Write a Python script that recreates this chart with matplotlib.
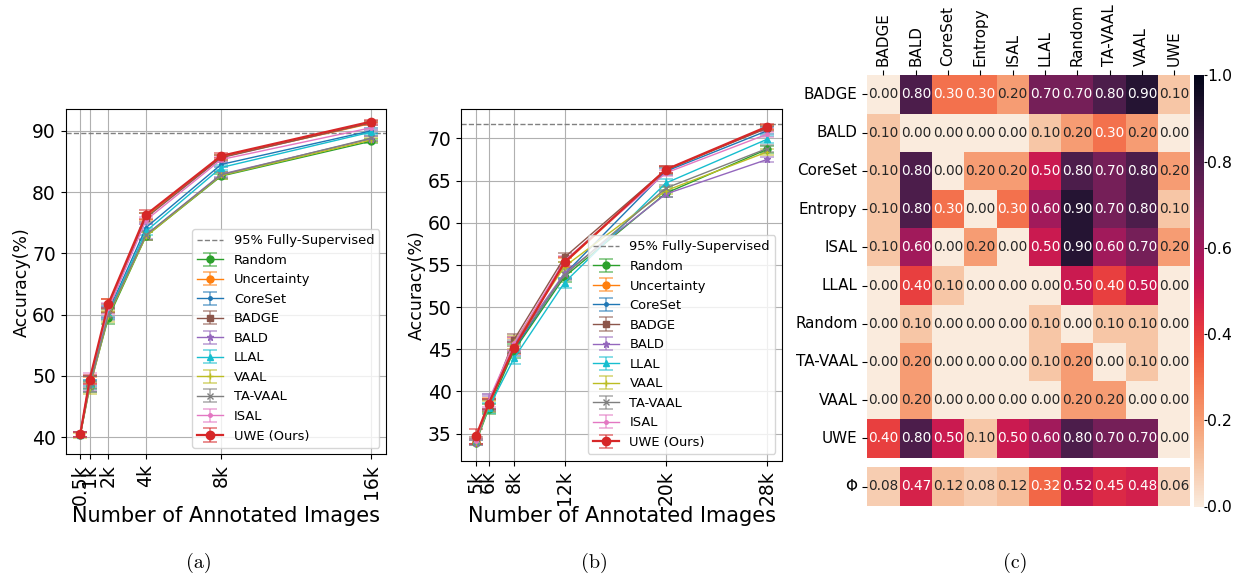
import numpy as np
import matplotlib
matplotlib.use("Agg")
import matplotlib.pyplot as plt
import seaborn as sns

plt.rcParams['font.family'] = ['DejaVu Sans']

# ---------------- data ----------------
methods = ["Random", "Uncertainty", "CoreSet", "BADGE", "BALD", "LLAL",
           "VAAL", "TA-VAAL", "ISAL", "UWE (Ours)"]
colors = ["tab:green", "tab:orange", "tab:blue", "tab:brown", "tab:purple",
          "tab:cyan", "tab:olive", "tab:gray", "tab:pink", "tab:red"]
markers = ["o", "o", ".", "s", "*", "^", "+", "x", ".", "o"]

# panel (a)
budget_a = [0.5, 1, 2, 4, 8, 16]
ticklabels_a = ["0.5k", "1k", "2k", "4k", "8k", "16k"]
acc_a = {
    "Random":      [40.4, 48.3, 59.5, 72.8, 82.6, 88.3],
    "Uncertainty": [40.5, 48.8, 61.5, 76.0, 85.7, 91.2],
    "CoreSet":     [40.4, 49.2, 60.5, 74.2, 84.5, 90.0],
    "BADGE":       [40.5, 49.0, 61.0, 75.8, 85.6, 91.3],
    "BALD":        [40.4, 48.5, 60.3, 73.0, 82.9, 88.7],
    "LLAL":        [40.4, 48.6, 60.2, 73.6, 84.0, 89.8],
    "VAAL":        [40.3, 48.0, 59.8, 72.8, 82.7, 88.5],
    "TA-VAAL":     [40.4, 48.2, 60.0, 73.0, 82.8, 88.8],
    "ISAL":        [40.5, 49.5, 61.0, 75.4, 85.3, 90.5],
    "UWE (Ours)":  [40.5, 49.4, 61.8, 76.3, 85.9, 91.5],
}
std_a = {
    "Random":      [0.4, 0.9, 1.0, 0.7, 0.4, 0.3],
    "Uncertainty": [0.4, 1.0, 1.1, 0.6, 0.4, 0.3],
    "CoreSet":     [0.4, 0.8, 0.9, 0.6, 0.4, 0.4],
    "BADGE":       [0.4, 0.9, 0.8, 0.7, 0.4, 0.3],
    "BALD":        [0.4, 0.9, 0.9, 0.6, 0.4, 0.4],
    "LLAL":        [0.4, 0.8, 0.9, 0.6, 0.4, 0.4],
    "VAAL":        [0.4, 0.9, 1.0, 0.7, 0.5, 0.3],
    "TA-VAAL":     [0.4, 0.8, 0.9, 0.8, 0.5, 0.4],
    "ISAL":        [0.4, 0.9, 0.9, 0.6, 0.4, 0.4],
    "UWE (Ours)":  [0.4, 0.8, 0.8, 0.7, 0.4, 0.3],
}
full_sup_a = 89.6

# panel (b)
budget_b = [5, 6, 8, 12, 20, 28]
ticklabels_b = ["5k", "6k", "8k", "12k", "20k", "28k"]
acc_b = {
    "Random":      [33.9, 37.9, 44.8, 53.6, 63.5, 68.7],
    "Uncertainty": [34.0, 38.5, 45.5, 55.2, 66.2, 71.3],
    "CoreSet":     [34.0, 38.8, 45.0, 53.9, 66.1, 70.9],
    "BADGE":       [34.2, 38.3, 46.1, 55.9, 66.3, 71.2],
    "BALD":        [33.9, 38.6, 45.6, 54.0, 63.4, 67.5],
    "LLAL":        [34.1, 38.0, 43.9, 52.9, 64.7, 69.9],
    "VAAL":        [34.0, 38.2, 45.8, 54.8, 63.8, 68.4],
    "TA-VAAL":     [34.0, 38.4, 45.3, 53.8, 64.1, 68.8],
    "ISAL":        [34.1, 38.9, 45.7, 55.5, 65.9, 70.5],
    "UWE (Ours)":  [34.65, 38.5, 45.1, 55.3, 66.3, 71.4],
}
std_b = {
    "Random":      [0.3, 0.6, 0.8, 0.6, 0.4, 0.4],
    "Uncertainty": [0.3, 0.7, 0.8, 0.6, 0.4, 0.3],
    "CoreSet":     [0.3, 0.9, 0.8, 0.6, 0.4, 0.4],
    "BADGE":       [0.4, 0.7, 0.7, 0.5, 0.4, 0.3],
    "BALD":        [0.3, 0.8, 0.8, 0.6, 0.4, 0.3],
    "LLAL":        [0.3, 0.6, 0.7, 0.6, 0.5, 0.4],
    "VAAL":        [0.3, 0.7, 0.8, 0.6, 0.4, 0.4],
    "TA-VAAL":     [0.3, 0.7, 0.8, 0.6, 0.4, 0.4],
    "ISAL":        [0.3, 0.8, 0.8, 0.6, 0.4, 0.3],
    "UWE (Ours)":  [0.9, 0.6, 0.7, 0.6, 0.4, 0.3],
}
full_sup_b = 71.65

# panel (c): pairwise comparison matrix
pair_labels = ["BADGE", "BALD", "CoreSet", "Entropy", "ISAL", "LLAL",
               "Random", "TA-VAAL", "VAAL", "UWE"]
pair_matrix = [
    [0.00, 0.80, 0.30, 0.30, 0.20, 0.70, 0.70, 0.80, 0.90, 0.10],
    [0.10, 0.00, 0.00, 0.00, 0.00, 0.10, 0.20, 0.30, 0.20, 0.00],
    [0.10, 0.80, 0.00, 0.20, 0.20, 0.50, 0.80, 0.70, 0.80, 0.20],
    [0.10, 0.80, 0.30, 0.00, 0.30, 0.60, 0.90, 0.70, 0.80, 0.10],
    [0.10, 0.60, 0.00, 0.20, 0.00, 0.50, 0.90, 0.60, 0.70, 0.20],
    [0.00, 0.40, 0.10, 0.00, 0.00, 0.00, 0.50, 0.40, 0.50, 0.00],
    [0.00, 0.10, 0.00, 0.00, 0.00, 0.10, 0.00, 0.10, 0.10, 0.00],
    [0.00, 0.20, 0.00, 0.00, 0.00, 0.10, 0.20, 0.00, 0.10, 0.00],
    [0.00, 0.20, 0.00, 0.00, 0.00, 0.00, 0.20, 0.20, 0.00, 0.00],
    [0.40, 0.80, 0.50, 0.10, 0.50, 0.60, 0.80, 0.70, 0.70, 0.00],
]
phi_row = [0.08, 0.47, 0.12, 0.08, 0.12, 0.32, 0.52, 0.45, 0.48, 0.06]

# ---------------- figure ----------------
W, H = 1234, 576
fig = plt.figure(figsize=(W / 100, H / 100), dpi=100)


def px_axes(left, top, right, bottom):
    return fig.add_axes([left / W, 1 - bottom / H, (right - left) / W,
                         (bottom - top) / H])


TICK_FS = 13.5
LEG_FS = 9.4


def draw_curves(ax, budget, acc, std, full_sup, ticklabels, ylim, yticks):
    ax.set_axisbelow(True)
    ax.grid(True, color="#b0b0b0", linewidth=0.8)
    ax.axhline(full_sup, color="gray", linestyle="--", linewidth=1,
               label="95% Fully-Supervised")
    for name, col, mk in zip(methods, colors, markers):
        ours = name.startswith("UWE")
        ax.errorbar(budget, acc[name], yerr=std[name], color=col, marker=mk,
                    markersize=6 if ours else 5,
                    linewidth=1.6 if ours else 1,
                    elinewidth=1.2, capsize=5, capthick=1.2,
                    ecolor=matplotlib.colors.to_rgba(col, 0.6),
                    label=name)
    ax.set_xticks(budget)
    ax.set_xticklabels(ticklabels, rotation=90, fontsize=TICK_FS)
    ax.set_yticks(yticks)
    ax.tick_params(axis="y", labelsize=TICK_FS)
    ax.set_ylim(*ylim)
    ax.set_xlabel("Number of Annotated Images", fontsize=15, labelpad=1)
    ax.set_ylabel("Accuracy(%)", fontsize=12.5, labelpad=1)
    ax.legend(loc="lower right", fontsize=LEG_FS, labelspacing=0.5)


ax_a = px_axes(65.7, 109.3, 386, 454.3)
draw_curves(ax_a, budget_a, acc_a, std_a, full_sup_a, ticklabels_a,
            (37.2, 93.5), [40, 50, 60, 70, 80, 90])

ax_b = px_axes(461.3, 109.3, 781.7, 460.5)
draw_curves(ax_b, budget_b, acc_b, std_b, full_sup_b, ticklabels_b,
            (31.8, 73.45), [35, 40, 45, 50, 55, 60, 65, 70])

# heatmap with summary row below
ax_h = px_axes(867.3, 75.3, 1190.3, 457.5)
ax_p = px_axes(867.3, 467.3, 1190.3, 505.7)
ax_c = px_axes(1194, 75.3, 1203.5, 506.5)

HM_FS = 10.9
ANN_FS = 9.8
sns.heatmap(np.array(pair_matrix), ax=ax_h, annot=True, fmt=".2f",
            cmap="rocket_r", vmin=0, vmax=1, cbar_ax=ax_c,
            xticklabels=pair_labels, yticklabels=pair_labels,
            annot_kws={"size": ANN_FS})
ax_h.xaxis.tick_top()
ax_h.set_xticklabels(pair_labels, rotation=90, fontsize=HM_FS)
ax_h.set_yticklabels(pair_labels, rotation=0, fontsize=HM_FS)

sns.heatmap(np.array([phi_row]), ax=ax_p, annot=True, fmt=".2f",
            cmap="rocket_r", vmin=0, vmax=1, cbar=False,
            xticklabels=False, yticklabels=["Φ"],
            annot_kws={"size": ANN_FS})
ax_p.set_yticklabels(["Φ"], rotation=0, fontsize=HM_FS)
ax_c.tick_params(labelsize=11.3, length=2, pad=0.5)

# panel captions
for label, xc in [("(a)", 198.7), ("(b)", 594.5), ("(c)", 1015)]:
    fig.text(xc / W, 1 - 562.7 / H, label, family="cmr10", fontsize=14.4,
             ha="center", va="center")

fig.savefig("out.png", dpi=100)
